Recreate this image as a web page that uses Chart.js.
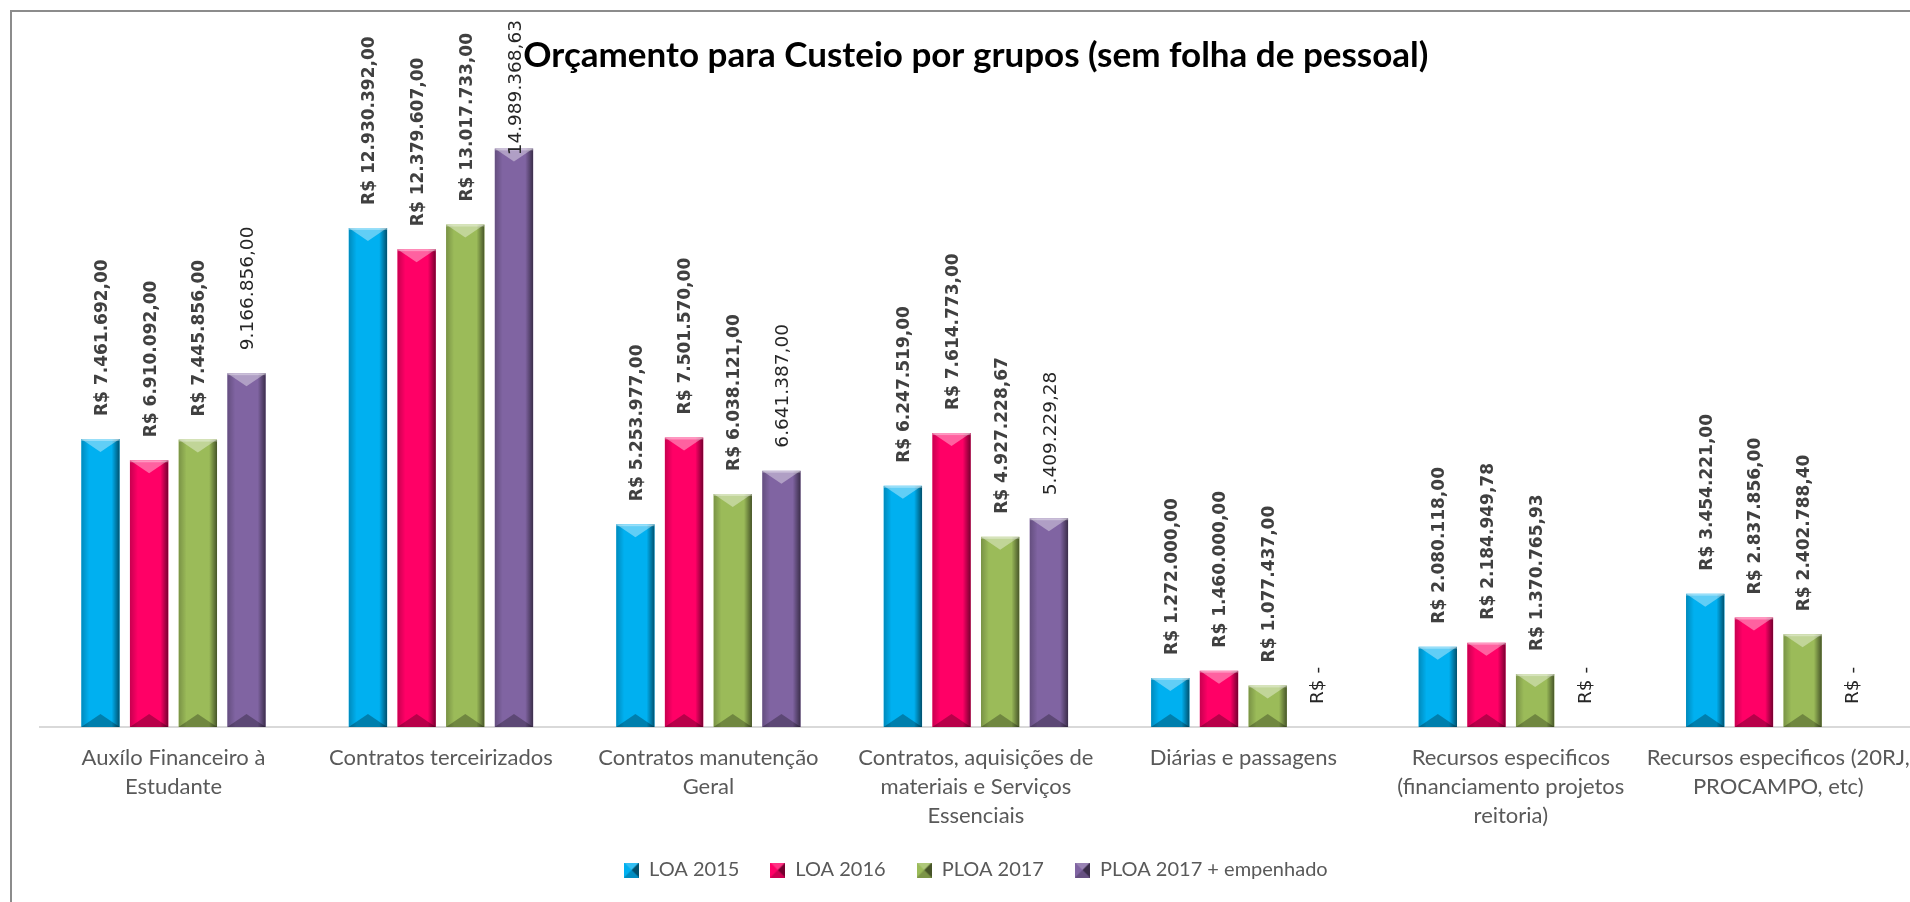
<!DOCTYPE html>
<html><head><meta charset="utf-8">
<script src="https://cdn.jsdelivr.net/npm/chart.js@4.4.1/dist/chart.umd.min.js"></script>
<style>
html,body{margin:0;padding:0;background:#fff;overflow:hidden;width:1910px;height:902px;}
#frame{position:absolute;left:10px;top:10px;width:1970px;height:960px;border:2px solid #8c8c8c;box-sizing:border-box;background:#fff;}
#c{position:absolute;left:0;top:0;}
</style></head><body>
<div id="frame"><canvas id="c" width="1930" height="900"></canvas></div>
<script>
const categories = [
  ["Auxílo Financeiro à", "Estudante"],
  ["Contratos terceirizados"],
  ["Contratos manutenção", "Geral"],
  ["Contratos, aquisições de", "materiais e Serviços", "Essenciais"],
  ["Diárias e passagens"],
  ["Recursos especificos", "(financiamento projetos", "reitoria)"],
  ["Recursos especificos (20RJ,", "PROCAMPO, etc)"]
];
const seriesNames = ["LOA 2015", "LOA 2016", "PLOA 2017", "PLOA 2017 + empenhado"];
const loa2015 = [7461692.00, 12930392.00, 5253977.00, 6247519.00, 1272000.00, 2080118.00, 3454221.00];
const loa2016 = [6910092.00, 12379607.00, 7501570.00, 7614773.00, 1460000.00, 2184949.78, 2837856.00];
const ploa2017 = [7445856.00, 13017733.00, 6038121.00, 4927228.67, 1077437.00, 1370765.93, 2402788.40];
const ploa2017Empenhado = [9166856.00, 14989368.63, 6641387.00, 5409229.28, 0, 0, 0];
const seriesColors = ["#00B0F0", "#FF0066", "#9BBB59", "#8064A2"];
const chartTitle = "Orçamento para Custeio por grupos (sem folha de pessoal)";

function fmtBR(v) {
  const parts = v.toFixed(2).split('.');
  return parts[0].replace(/\B(?=(\d{3})+(?!\d))/g, '.') + ',' + parts[1];
}
function labelText(di, v) {
  if (di < 3) return 'R$ ' + fmtBR(v);
  return v === 0 ? 'R$ -' : fmtBR(v);
}

function bevel(ctx, l, r, t, b, dMax, sMax) {
  const w = r - l, h = b - t, cx = (l + r) / 2;
  const d = Math.min(dMax, h / 2);
  const s = Math.min(sMax, w / 4);
  ctx.save();
  ctx.beginPath(); ctx.rect(l, t, w, h); ctx.clip();
  let g = ctx.createLinearGradient(l, 0, l + s, 0);
  g.addColorStop(0, 'rgba(0,0,0,0.22)'); g.addColorStop(1, 'rgba(0,0,0,0)');
  ctx.fillStyle = g; ctx.fillRect(l, t, s, h);
  g = ctx.createLinearGradient(r - s, 0, r, 0);
  g.addColorStop(0, 'rgba(0,0,0,0)'); g.addColorStop(1, 'rgba(0,0,0,0.55)');
  ctx.fillStyle = g; ctx.fillRect(r - s, t, s, h);
  ctx.beginPath(); ctx.moveTo(l, t); ctx.lineTo(r, t); ctx.lineTo(cx, t + d); ctx.closePath();
  ctx.fillStyle = 'rgba(255,255,255,0.38)'; ctx.fill();
  ctx.fillStyle = 'rgba(255,255,255,0.35)'; ctx.fillRect(l, t, w, Math.min(2, h));
  ctx.beginPath(); ctx.moveTo(l, b); ctx.lineTo(r, b); ctx.lineTo(cx, b - d); ctx.closePath();
  ctx.fillStyle = 'rgba(0,0,0,0.28)'; ctx.fill();
  ctx.restore();
}

function legendSwatch(color) {
  const c = document.createElement('canvas');
  c.width = 15; c.height = 15;
  const x = c.getContext('2d');
  x.fillStyle = color; x.fillRect(0, 0, 15, 15);
  x.beginPath(); x.moveTo(15, 0); x.lineTo(15, 15); x.lineTo(7.5, 7.5); x.closePath();
  x.fillStyle = 'rgba(0,0,0,0.55)'; x.fill();
  x.beginPath(); x.moveTo(0, 0); x.lineTo(15, 0); x.lineTo(7.5, 7.5); x.closePath();
  x.fillStyle = 'rgba(255,255,255,0.2)'; x.fill();
  x.beginPath(); x.moveTo(0, 15); x.lineTo(15, 15); x.lineTo(7.5, 7.5); x.closePath();
  x.fillStyle = 'rgba(0,0,0,0.2)'; x.fill();
  return c;
}
const swatches = seriesColors.map(legendSwatch);

const barDecor = {
  id: 'barDecor',
  afterDatasetsDraw(chart) {
    const ctx = chart.ctx;
    chart.data.datasets.forEach((ds, di) => {
      chart.getDatasetMeta(di).data.forEach((bar) => {
        const p = bar.getProps(['x', 'y', 'base', 'width'], true);
        if (p.base - p.y > 1) bevel(ctx, p.x - p.width / 2, p.x + p.width / 2, p.y, p.base, 13, 8);
      });
    });
    chart.data.datasets.forEach((ds, di) => {
      chart.getDatasetMeta(di).data.forEach((bar, i) => {
        const p = bar.getProps(['x', 'y'], true);
        const text = labelText(di, ds.data[i]);
        ctx.save();
        ctx.font = (di < 3 ? 'bold 17px' : '18.5px') + ' "DejaVu Sans", Verdana, sans-serif';
        const tw = ctx.measureText(text).width;
        let start = p.y - 23;
        if (start - tw < 8) start = 8 + tw;
        ctx.translate(p.x + 2, start);
        ctx.rotate(-Math.PI / 2);
        ctx.textAlign = 'left';
        ctx.textBaseline = 'middle';
        ctx.fillStyle = di < 3 ? '#404040' : '#262626';
        ctx.fillText(text, 0, 0);
        ctx.restore();
      });
    });
  }
};

const allSeries = [loa2015, loa2016, ploa2017, ploa2017Empenhado];
new Chart(document.getElementById('c'), {
  type: 'bar',
  data: {
    labels: categories,
    datasets: allSeries.map((d, i) => ({
      label: seriesNames[i],
      data: d,
      backgroundColor: seriesColors[i],
      borderWidth: 0,
      categoryPercentage: 0.728,
      barPercentage: 0.79
    }))
  },
  options: {
    responsive: false,
    animation: false,
    events: [],
    layout: { padding: { left: 27.75, right: 30, top: 0, bottom: 22 } },
    plugins: {
      title: {
        display: true,
        text: chartTitle,
        color: '#000000',
        font: { family: 'Lato, "Open Sans", sans-serif', size: 35, weight: 'bold', lineHeight: 1.2 },
        padding: { top: 23, bottom: 32.4 }
      },
      legend: {
        position: 'bottom',
        labels: {
          color: '#595959',
          font: { family: 'Lato, "Open Sans", sans-serif', size: 20 },
          boxWidth: 15, boxHeight: 15,
          padding: 31,
          usePointStyle: true,
          generateLabels: (chart) => {
            const items = Chart.defaults.plugins.legend.labels.generateLabels(chart);
            items.forEach((it, i) => { it.pointStyle = swatches[i]; });
            return items;
          }
        }
      },
      tooltip: { enabled: false }
    },
    scales: {
      x: {
        grid: { display: false, drawTicks: false },
        border: { display: true, color: '#D9D9D9', width: 2 },
        ticks: {
          color: '#595959',
          font: { family: 'Lato, "Open Sans", sans-serif', size: 22, lineHeight: 1.32 },
          padding: 16.5,
          maxRotation: 0, minRotation: 0, autoSkip: false
        },
        afterFit: (scale) => { scale.height = 102; }
      },
      y: { display: false, min: 0, max: 16000000 }
    }
  },
  plugins: [barDecor]
});
</script>
</body></html>
